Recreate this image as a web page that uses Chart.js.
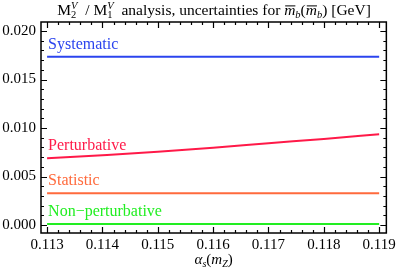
<!DOCTYPE html>
<html>
<head>
<meta charset="utf-8">
<script src="https://cdn.jsdelivr.net/npm/chart.js@4.4.1/dist/chart.umd.min.js"></script>
<style>
  html, body { margin: 0; padding: 0; background: #fff; }
  #wrap { width: 399px; height: 269px; }
</style>
</head>
<body>
<div id="wrap"><canvas id="myChart"></canvas></div>
<script>
const alphaS = [0.113, 0.114, 0.115, 0.116, 0.117, 0.118, 0.119];
const systematic = [0.01735, 0.01735, 0.01735, 0.01735, 0.01735, 0.01735, 0.01735];
const perturbative = [0.00688, 0.0072, 0.00755, 0.00797, 0.00843, 0.00888, 0.00935];
const statistic = [0.00327, 0.00327, 0.00327, 0.00327, 0.00327, 0.00327, 0.00327];
const nonPerturbative = [0.0001, 0.0001, 0.0001, 0.0001, 0.0001, 0.0001, 0.0001];
const seriesNames = ['Systematic', 'Perturbative', 'Statistic', 'Non\u2212perturbative'];
const seriesColors = ['#2b44ee', '#ff1948', '#ff6a3c', '#22ee22'];

const serif = '"Liberation Serif", "DejaVu Serif", serif';

function pts(ys) {
  return alphaS.map((x, i) => ({ x: x, y: ys[i] }));
}

// rich text: runs of {t, italic, size, dy, over, zero, gap}
function drawRuns(ctx, runs, cx, y) {
  const widths = runs.map(r => {
    ctx.font = (r.italic ? 'italic ' : '') + r.size + 'px ' + serif;
    return r.zero ? 0 : ctx.measureText(r.t).width + (r.gap || 0);
  });
  let x = cx - widths.reduce((a, b) => a + b, 0) / 2;
  runs.forEach((r, i) => {
    ctx.font = (r.italic ? 'italic ' : '') + r.size + 'px ' + serif;
    ctx.fillText(r.t, x, y + (r.dy || 0));
    if (r.over) {
      const w = ctx.measureText(r.t).width;
      ctx.fillRect(x + 1, y - r.size * 0.62, w - 1, 1);
    }
    x += widths[i];
  });
}

const frameAndTicks = {
  id: 'frameAndTicks',
  afterDraw(chart) {
    const ctx = chart.ctx;
    const a = chart.chartArea;
    const xs = chart.scales.x, ys = chart.scales.y;
    ctx.save();
    ctx.strokeStyle = '#000';
    ctx.lineWidth = 1.5;
    ctx.strokeRect(a.left, a.top, a.right - a.left, a.bottom - a.top);
    ctx.lineWidth = 1.2;
    ctx.beginPath();
    // x ticks: major 0.001, minor 0.0002
    for (let k = 0; k <= 35; k++) {
      const v = 0.112 + k * 0.0002;
      if (v < xs.min || v > xs.max) continue;
      const px = Math.round(xs.getPixelForValue(v)) + 0.5;
      const len = (k % 5 === 0) ? 6 : 3;
      ctx.moveTo(px, a.bottom); ctx.lineTo(px, a.bottom - len);
      ctx.moveTo(px, a.top); ctx.lineTo(px, a.top + len);
    }
    // y ticks: major 0.005, minor 0.001
    for (let k = -1; k <= 21; k++) {
      const v = k * 0.001;
      if (v < ys.min || v > ys.max) continue;
      const py = Math.round(ys.getPixelForValue(v)) + 0.5;
      const len = (k % 5 === 0) ? 6 : 3;
      ctx.moveTo(a.left, py); ctx.lineTo(a.left + len, py);
      ctx.moveTo(a.right, py); ctx.lineTo(a.right - len, py);
    }
    ctx.stroke();

    // series labels
    const lbls = [systematic, perturbative, statistic, nonPerturbative];
    ctx.font = '16px ' + serif;
    ctx.textBaseline = 'alphabetic';
    lbls.forEach((arr, i) => {
      ctx.fillStyle = seriesColors[i];
      const py = ys.getPixelForValue(arr[0]);
      ctx.fillText(seriesNames[i], xs.getPixelForValue(alphaS[0]) + 1, py - 8);
    });

    // title
    ctx.fillStyle = '#000';
    drawRuns(ctx, [
      { t: 'M', size: 15.5 },
      { t: '2', size: 10.5, dy: 3, zero: true },
      { t: 'V', size: 10.5, italic: true, dy: -6, gap: 4 },
      { t: ' / M', size: 15.5 },
      { t: '1', size: 10.5, dy: 3, zero: true },
      { t: 'V', size: 10.5, italic: true, dy: -6, gap: 4 },
      { t: ' analysis, uncertainties for ', size: 15.5 },
      { t: 'm', size: 15.5, italic: true, over: true },
      { t: 'b', size: 10.5, italic: true, dy: 3 },
      { t: '(', size: 15.5 },
      { t: 'm', size: 15.5, italic: true, over: true },
      { t: 'b', size: 10.5, italic: true, dy: 3 },
      { t: ') [GeV]', size: 15.5 }
    ], 214, 15);

    // x axis title
    drawRuns(ctx, [
      { t: '\u03b1', size: 15, italic: true },
      { t: 's', size: 10, italic: true, dy: 3 },
      { t: '(', size: 15 },
      { t: 'm', size: 15, italic: true },
      { t: 'Z', size: 10, italic: true, dy: 3 },
      { t: ')', size: 15 }
    ], (a.left + a.right) / 2, 264);
    ctx.restore();
  }
};

new Chart(document.getElementById('myChart'), {
  type: 'line',
  data: {
    datasets: [
      { label: seriesNames[0], data: pts(systematic), borderColor: seriesColors[0] },
      { label: seriesNames[1], data: pts(perturbative), borderColor: seriesColors[1], cubicInterpolationMode: 'monotone' },
      { label: seriesNames[2], data: pts(statistic), borderColor: seriesColors[2] },
      { label: seriesNames[3], data: pts(nonPerturbative), borderColor: seriesColors[3] }
    ]
  },
  options: {
    responsive: true,
    maintainAspectRatio: false,
    animation: false,
    events: [],
    layout: { padding: { top: 22, right: 12, left: 0, bottom: 0 } },
    elements: {
      point: { radius: 0 },
      line: { borderWidth: 2, fill: false }
    },
    plugins: {
      legend: { display: false },
      tooltip: { enabled: false }
    },
    scales: {
      x: {
        type: 'linear',
        min: 0.11289,
        max: 0.11913,
        grid: { display: false, drawTicks: false },
        border: { display: false },
        afterFit(scale) { scale.height = 36; },
        ticks: {
          stepSize: 0.001,
          includeBounds: false,
          padding: 3,
          color: '#000',
          font: { family: serif, size: 15 },
          maxRotation: 0,
          callback: v => v.toFixed(3)
        }
      },
      y: {
        min: -0.00082,
        max: 0.02093,
        grid: { display: false, drawTicks: false },
        border: { display: false },
        afterFit(scale) { scale.width = 41; },
        ticks: {
          stepSize: 0.005,
          includeBounds: false,
          padding: 5,
          color: '#000',
          font: { family: serif, size: 15 },
          callback: v => v.toFixed(3)
        }
      }
    }
  },
  plugins: [frameAndTicks]
});
</script>
</body>
</html>
